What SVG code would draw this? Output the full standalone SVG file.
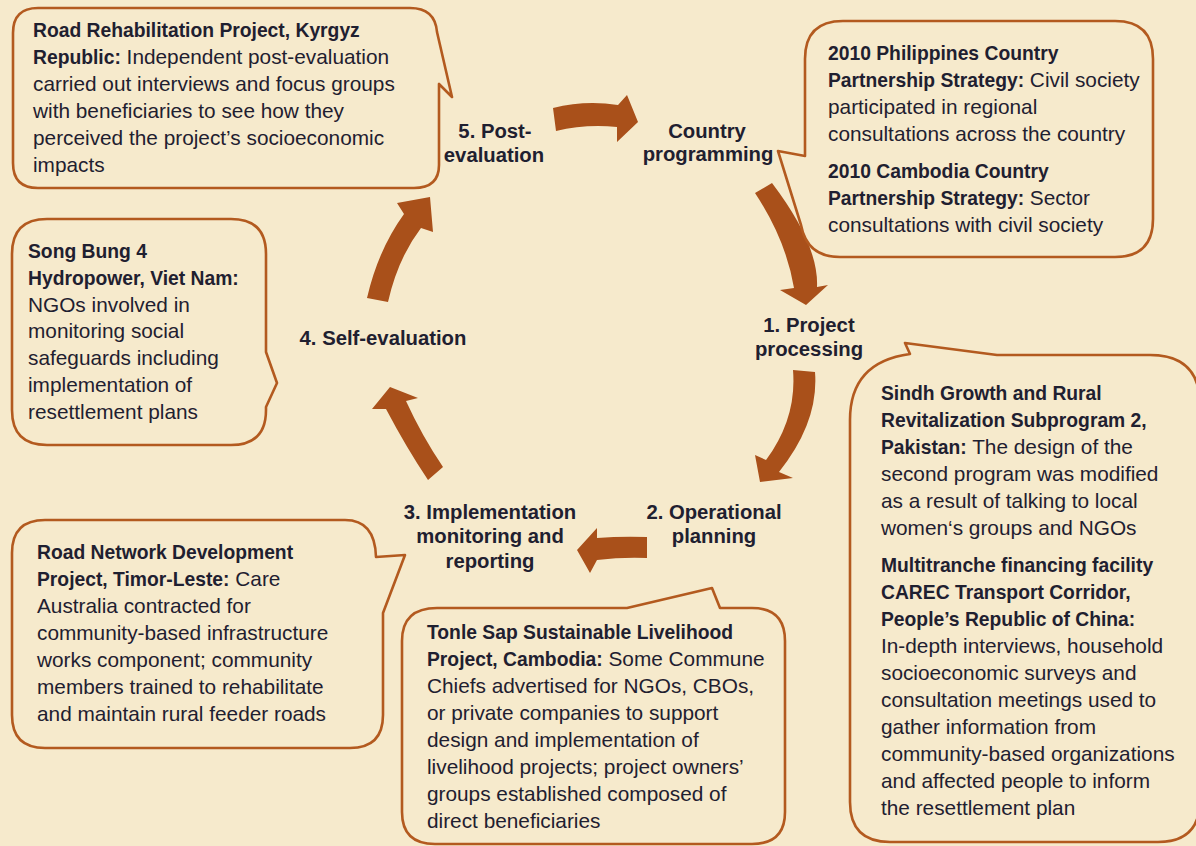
<svg xmlns="http://www.w3.org/2000/svg" width="1196" height="846" viewBox="0 0 1196 846">
<style>
.bg{fill:#f6eacc}
.bub{fill:#f6eacc;stroke:#b35a1f;stroke-width:2.6;stroke-linejoin:round}
.t{font-family:"Liberation Sans",Arial,sans-serif;font-size:20.8px;fill:#1f2030}
.bd{font-weight:bold;font-size:19.3px}
.st{font-family:"Liberation Sans",Arial,sans-serif;font-size:20.3px;font-weight:bold;fill:#1f2030;text-anchor:middle}
.ar{fill:#a9501a}
</style>
<rect class="bg" x="0" y="0" width="1196" height="846"/>

<g id="connectors">
<path class="ar" d="M 553,108 Q 585,100 618,105 L 627,95 L 638,122 L 617,142 L 617,127 Q 585,124 556,131 Z"/>
<path class="ar" d="M 755,193 Q 786,240 794,288 L 780,290 L 806,305 L 828,285 L 817,287 Q 819,245 772,183 Z"/>
<path class="ar" d="M 793,370 Q 797,418 766,460 L 755,455 L 760,482 L 793,478 L 779,472 Q 819,422 815,372 Z"/>
<path class="ar" d="M 647,537 Q 622,536 597,538 L 597,528 L 577,550 L 590,573 L 597,560 Q 622,557 647,558 Z"/>
<path class="ar" d="M 428,480 Q 406,447 386,409 L 372,409 L 390,387 L 418,398 L 406,401 Q 422,436 443,467 Z"/>
<path class="ar" d="M 367,298 Q 378,250 404,214 L 397,203 L 430,197 L 433,232 L 421,228 Q 398,258 388,302 Z"/>
</g>

<g id="stage-post-evaluation">
<text class="st" x="495" y="138">5. Post-</text>
<text class="st" x="494" y="162">evaluation</text>
</g>
<g id="stage-country-programming">
<text class="st" x="707" y="138">Country</text>
<text class="st" x="708" y="161">programming</text>
</g>
<g id="stage-project-processing">
<text class="st" x="809" y="332">1. Project</text>
<text class="st" x="809" y="356">processing</text>
</g>
<g id="stage-operational-planning">
<text class="st" x="714" y="519">2. Operational</text>
<text class="st" x="714" y="543">planning</text>
</g>
<g id="stage-implementation">
<text class="st" x="490" y="519">3. Implementation</text>
<text class="st" x="490" y="543">monitoring and</text>
<text class="st" x="490" y="568">reporting</text>
</g>
<g id="stage-self-evaluation">
<text class="st" x="383" y="345">4. Self-evaluation</text>
</g>

<g id="box-kyrgyz">
<path class="bub" d="M 38,8 H 410 Q 435,8 437,32 L 452,97 L 439,84 V 165 Q 439,188 414,188 H 38 Q 13,188 13,163 V 33 Q 13,8 38,8 Z"/>
<text class="t" x="33" y="37"><tspan class="bd">Road Rehabilitation Project, Kyrgyz</tspan></text>
<text class="t" x="33" y="64"><tspan class="bd">Republic:</tspan> Independent post-evaluation</text>
<text class="t" x="33" y="91">carried out interviews and focus groups</text>
<text class="t" x="33" y="118">with beneficiaries to see how they</text>
<text class="t" x="33" y="145">perceived the project’s socioeconomic</text>
<text class="t" x="33" y="172">impacts</text>
</g>

<g id="box-philippines-cambodia">
<path class="bub" d="M 843,21 H 1115 Q 1153,21 1153,59 V 219 Q 1153,257 1115,257 H 840 Q 807,257 801,225 L 778,151 L 805,156 V 59 Q 805,21 843,21 Z"/>
<text class="t" x="828" y="60"><tspan class="bd">2010 Philippines Country</tspan></text>
<text class="t" x="828" y="87"><tspan class="bd">Partnership Strategy:</tspan> Civil society</text>
<text class="t" x="828" y="114">participated in regional</text>
<text class="t" x="828" y="141">consultations across the country</text>
<text class="t" x="828" y="178"><tspan class="bd">2010 Cambodia Country</tspan></text>
<text class="t" x="828" y="205"><tspan class="bd">Partnership Strategy:</tspan> Sector</text>
<text class="t" x="828" y="232">consultations with civil society</text>
</g>

<g id="box-vietnam">
<path class="bub" d="M 47,219 H 231 Q 266,219 266,254 V 352 L 277,383 L 266,407 V 410 Q 266,445 231,445 H 47 Q 12,445 12,410 V 254 Q 12,219 47,219 Z"/>
<text class="t" x="28" y="258"><tspan class="bd">Song Bung 4</tspan></text>
<text class="t" x="28" y="285"><tspan class="bd">Hydropower, Viet Nam:</tspan></text>
<text class="t" x="28" y="312">NGOs involved in</text>
<text class="t" x="28" y="338">monitoring social</text>
<text class="t" x="28" y="365">safeguards including</text>
<text class="t" x="28" y="392">implementation of</text>
<text class="t" x="28" y="419">resettlement plans</text>
</g>

<g id="box-timor-leste">
<path class="bub" d="M 45,520 H 345 Q 375,520 376,557 L 405,555 L 383,613 V 715 Q 383,748 350,748 H 45 Q 12,748 12,715 V 553 Q 12,520 45,520 Z"/>
<text class="t" x="37" y="559"><tspan class="bd">Road Network Development</tspan></text>
<text class="t" x="37" y="586"><tspan class="bd">Project, Timor-Leste:</tspan> Care</text>
<text class="t" x="37" y="613">Australia contracted for</text>
<text class="t" x="37" y="640">community-based infrastructure</text>
<text class="t" x="37" y="667">works component; community</text>
<text class="t" x="37" y="694">members trained to rehabilitate</text>
<text class="t" x="37" y="721">and maintain rural feeder roads</text>
</g>

<g id="box-tonle-sap">
<path class="bub" d="M 437,608 H 627 L 712,588 L 720,608 H 752 Q 785,608 785,641 V 812 Q 785,844 752,844 H 435 Q 402,844 402,812 V 641 Q 402,608 437,608 Z"/>
<text class="t" x="427" y="639"><tspan class="bd">Tonle Sap Sustainable Livelihood</tspan></text>
<text class="t" x="427" y="666"><tspan class="bd">Project, Cambodia:</tspan> Some Commune</text>
<text class="t" x="427" y="693">Chiefs advertised for NGOs, CBOs,</text>
<text class="t" x="427" y="720">or private companies to support</text>
<text class="t" x="427" y="747">design and implementation of</text>
<text class="t" x="427" y="774">livelihood projects; project owners’</text>
<text class="t" x="427" y="801">groups established composed of</text>
<text class="t" x="427" y="828">direct beneficiaries</text>
</g>

<g id="box-pakistan-prc">
<path class="bub" d="M 850,420 Q 850,362 910,354 L 905,343 L 997,355 H 1150 Q 1200,355 1200,405 V 800 Q 1200,842 1158,842 H 890 Q 850,842 850,802 Z"/>
<text class="t" x="881" y="400"><tspan class="bd">Sindh Growth and Rural</tspan></text>
<text class="t" x="881" y="427"><tspan class="bd">Revitalization Subprogram 2,</tspan></text>
<text class="t" x="881" y="454"><tspan class="bd">Pakistan:</tspan> The design of the</text>
<text class="t" x="881" y="481">second program was modified</text>
<text class="t" x="881" y="508">as a result of talking to local</text>
<text class="t" x="881" y="535">women‘s groups and NGOs</text>
<text class="t" x="881" y="572"><tspan class="bd">Multitranche financing facility</tspan></text>
<text class="t" x="881" y="599"><tspan class="bd">CAREC Transport Corridor,</tspan></text>
<text class="t" x="881" y="626"><tspan class="bd">People’s Republic of China:</tspan></text>
<text class="t" x="881" y="653">In-depth interviews, household</text>
<text class="t" x="881" y="680">socioeconomic surveys and</text>
<text class="t" x="881" y="707">consultation meetings used to</text>
<text class="t" x="881" y="734">gather information from</text>
<text class="t" x="881" y="761">community-based organizations</text>
<text class="t" x="881" y="788">and affected people to inform</text>
<text class="t" x="881" y="815">the resettlement plan</text>
</g>
</svg>
